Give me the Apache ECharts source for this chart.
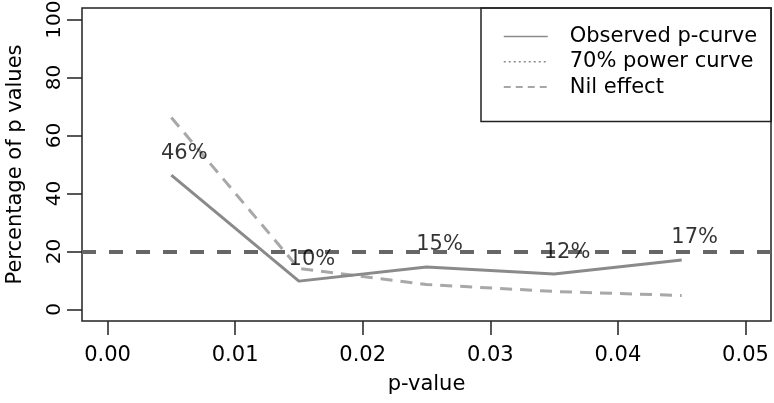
<!DOCTYPE html>
<html>
<head>
<meta charset="utf-8">
<script src="https://cdn.jsdelivr.net/npm/echarts@6/dist/echarts.min.js"></script>
<style>html,body{margin:0;padding:0;background:#fff;}#c{width:774px;height:403px;}</style>
</head>
<body>
<div id="c"></div>
<script>
// Data
var pBins = [0.005, 0.015, 0.025, 0.035, 0.045];
var observed = [46.34, 9.76, 14.63, 12.20, 17.07];
var power70 = [66.2, 14.1, 8.6, 6.2, 4.8];
var nilEffect = 20;
var xTicks = [0, 0.01, 0.02, 0.03, 0.04, 0.05];
var yTicks = [0, 20, 40, 60, 80, 100];
var seriesNames = ['Observed p-curve', '70% power curve', 'Nil effect'];

function pairs(xs, ys) { return xs.map(function (x, i) { return [x, ys[i]]; }); }

var FONT = 'DejaVu Sans';
var hidden = { color: 'transparent', borderColor: 'transparent', borderWidth: 0, opacity: 0 };
var chart = echarts.init(document.getElementById('c'), null, { renderer: 'canvas' });
chart.setOption({
  animation: false,
  backgroundColor: '#fff',
  textStyle: { fontFamily: FONT },
  grid: { left: 82, right: 3, top: 8, bottom: 82, outerBoundsMode: 'none', containLabel: false, show: true, borderColor: '#222', borderWidth: 1.5, backgroundColor: 'transparent' },
  legend: {
    show: true,
    orient: 'vertical',
    left: 481, top: 8,
    padding: [18, 14, 24, 22],
    borderColor: '#222', borderWidth: 1.5,
    itemWidth: 44, itemHeight: 14, itemGap: 4.3,
    selectedMode: false,
    textStyle: { fontFamily: FONT, fontSize: 21, color: '#000', lineHeight: 21, padding: [0, 0, 0, 17] },
    data: [
      { name: seriesNames[0], itemStyle: hidden, lineStyle: { color: '#8a8a8a', width: 1.5, type: 'solid' } },
      { name: seriesNames[1], itemStyle: hidden, lineStyle: { color: '#8a8a8a', width: 1.5, type: [2, 3] } },
      { name: seriesNames[2], itemStyle: hidden, lineStyle: { color: '#8a8a8a', width: 1.5, type: [7, 5] } }
    ]
  },
  xAxis: {
    type: 'value', min: -0.002, max: 0.052,
    name: 'p-value', nameLocation: 'middle', nameGap: 53,
    nameTextStyle: { fontFamily: FONT, fontSize: 21, color: '#000' },
    axisLine: { show: false, onZero: false },
    splitLine: { show: false },
    axisTick: { show: true, length: 14, lineStyle: { color: '#222', width: 1.5 }, customValues: xTicks },
    axisLabel: { fontFamily: FONT, fontSize: 21, color: '#000', margin: 24, customValues: xTicks, formatter: function (v) { return v.toFixed(2); } }
  },
  yAxis: {
    type: 'value', min: -4, max: 104,
    name: 'Percentage of p values', nameLocation: 'middle', nameGap: 56, nameRotate: 90,
    nameTextStyle: { fontFamily: FONT, fontSize: 21, color: '#000' },
    axisLine: { show: false, onZero: false },
    splitLine: { show: false },
    axisTick: { show: true, length: 15, lineStyle: { color: '#222', width: 1.5 }, customValues: yTicks },
    axisLabel: { fontFamily: FONT, fontSize: 20, color: '#000', margin: 17, rotate: 90, customValues: yTicks }
  },
  series: [
    {
      name: seriesNames[0], type: 'line', symbol: 'none', data: pairs(pBins, observed),
      lineStyle: { color: '#8a8a8a', width: 3 }, itemStyle: { color: '#8a8a8a' }, z: 3
    },
    {
      name: seriesNames[1], type: 'line', symbol: 'none', data: pairs(pBins, power70),
      lineStyle: { color: '#a8a8a8', width: 3, type: [12, 8] }, itemStyle: { color: '#a8a8a8' }, z: 2
    },
    {
      name: seriesNames[2], type: 'line', symbol: 'none', data: [],
      lineStyle: { color: '#666666', width: 4, type: [14, 13] }, itemStyle: { color: '#666666' },
      markLine: {
        silent: true, symbol: ['none', 'none'], label: { show: false },
        lineStyle: { color: '#666666', width: 4, type: [14, 13] },
        data: [{ yAxis: nilEffect }]
      }, z: 2
    },
    {
      name: 'labels', type: 'scatter', symbolSize: 1, data: pairs(pBins, observed),
      itemStyle: { color: 'transparent' }, z: 5,
      label: {
        show: true, position: 'inside', offset: [13, -22],
        fontFamily: FONT, fontSize: 21, color: '#000',
        formatter: function (p) { return Math.round(p.value[1]) + '%'; }
      }
    }
  ]
});
</script>
</body>
</html>
